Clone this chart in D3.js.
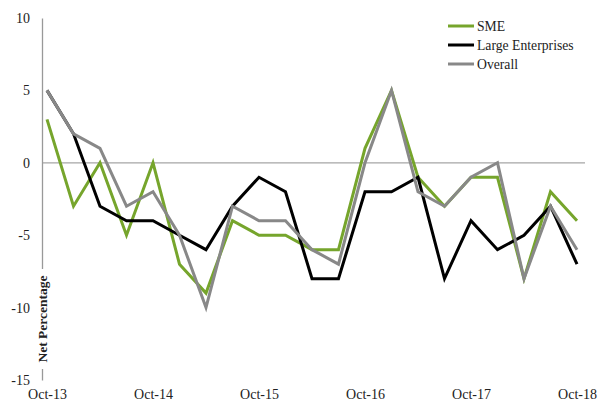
<!DOCTYPE html>
<html><head><meta charset="utf-8">
<script src="https://cdn.jsdelivr.net/npm/d3@7"></script>
<style>body{margin:0;background:#fff}svg{display:block}text{font-family:"Liberation Serif",serif;fill:#222}</style>
</head><body><svg id="c" width="605" height="405"></svg>
<script>
const periods = ["Oct-13","Jan-14","Apr-14","Jul-14","Oct-14","Jan-15","Apr-15","Jul-15","Oct-15","Jan-16","Apr-16","Jul-16","Oct-16","Jan-17","Apr-17","Jul-17","Oct-17","Jan-18","Apr-18","Jul-18","Oct-18"];
const sme     = [3,-3,0,-5,0,-7,-9,-4,-5,-5,-6,-6,1,5,-1,-3,-1,-1,-8,-2,-4];
const large   = [5,2,-3,-4,-4,-5,-6,-3,-1,-2,-8,-8,-2,-2,-1,-8,-4,-6,-5,-3,-7];
const overall = [5,2,1,-3,-2,-5,-10,-3,-4,-4,-6,-7,0,5,-2,-3,-1,0,-8,-3,-6];
const yTicks = [-15,-10,-5,0,5,10];
const xLabels = ["Oct-13","Oct-14","Oct-15","Oct-16","Oct-17","Oct-18"];
const seriesNames = ["SME","Large Enterprises","Overall"];
const colors = ["#76a52c","#000000","#888888"];

const svg = d3.select("#c");
const x = d3.scalePoint().domain(periods).range([47,577]);
const y = d3.scaleLinear().domain([-15,10]).range([380,18]);

// zero line
svg.append("line").attr("x1",42).attr("x2",585).attr("y1",y(0)).attr("y2",y(0))
  .attr("stroke","#a6a6a6").attr("stroke-width",1.3);

// y axis
const ya = svg.append("g").attr("transform","translate(42,0)")
  .call(d3.axisLeft(y).tickValues(yTicks).tickSize(0).tickPadding(12).tickFormat(d=>String(d)));
ya.select(".domain").attr("stroke","#999").attr("stroke-width",1.3);
ya.selectAll("text").attr("font-size",14).attr("font-family","Liberation Serif").attr("fill","#222");

// x labels
const xa = svg.append("g").attr("transform","translate(0,380)")
  .call(d3.axisBottom(x).tickValues(xLabels).tickSize(0).tickPadding(9));
xa.select(".domain").remove();
xa.selectAll("text").attr("font-size",14).attr("font-family","Liberation Serif").attr("fill","#222");

// y title with white background
const tg = svg.append("g").attr("transform","translate(42,319) rotate(-90)");
tg.append("rect").attr("x",-50).attr("y",-9).attr("width",100).attr("height",18).attr("fill","#fff");
tg.append("text").attr("text-anchor","middle").attr("dy","0.35em")
  .attr("font-size",13.5).attr("font-weight","bold").text("Net Percentage");

const line = d3.line().x((d,i)=>x(periods[i])).y(d=>y(d));
[sme,large,overall].forEach((s,k)=>{
  svg.append("path").datum(s).attr("d",line).attr("fill","none")
    .attr("stroke",colors[k]).attr("stroke-width",3).attr("stroke-linejoin","miter");
});

// legend
seriesNames.forEach((n,k)=>{
  const yy = 26 + k*19;
  svg.append("line").attr("x1",448).attr("x2",474).attr("y1",yy).attr("y2",yy)
    .attr("stroke",colors[k]).attr("stroke-width",3);
  svg.append("text").attr("x",477).attr("y",yy).attr("dy","0.35em").attr("font-size",13.7).text(n);
});
</script></body></html>
